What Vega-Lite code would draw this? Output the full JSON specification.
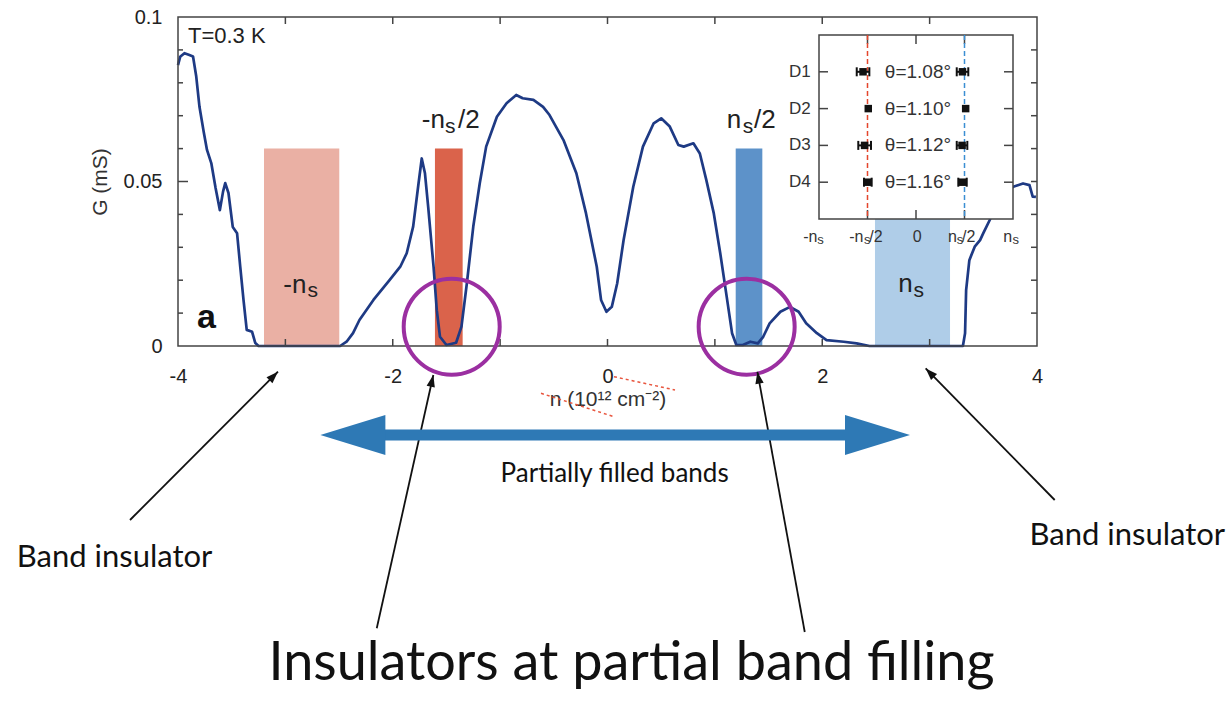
{
"$schema": "https://vega.github.io/schema/vega-lite/v6.json",
"width": 859, "height": 329,
"autosize": {"type": "none"},
"padding": {"left": 178, "top": 17, "right": 193, "bottom": 356},
"background": "white",
"config": {"view": {"stroke": null}},
"datasets": {
"curve": [
{"n":-4.00,"G":0.0854},{"n":-3.98,"G":0.0879},{"n":-3.94,"G":0.0890},{"n":-3.90,"G":0.0885},{"n":-3.86,"G":0.0880},{"n":-3.83,"G":0.0819},{"n":-3.80,"G":0.0727},{"n":-3.76,"G":0.0650},{"n":-3.73,"G":0.0596},{"n":-3.69,"G":0.0556},{"n":-3.65,"G":0.0480},{"n":-3.61,"G":0.0413},{"n":-3.58,"G":0.0470},{"n":-3.56,"G":0.0495},{"n":-3.53,"G":0.0465},{"n":-3.49,"G":0.0362},{"n":-3.45,"G":0.0343},{"n":-3.42,"G":0.0240},{"n":-3.39,"G":0.0140},{"n":-3.36,"G":0.0049},{"n":-3.31,"G":0.0043},{"n":-3.28,"G":0.0009},{"n":-3.25,"G":0.0},{"n":-2.90,"G":0.0},{"n":-2.49,"G":0.0},{"n":-2.43,"G":0.0013},{"n":-2.37,"G":0.0039},{"n":-2.31,"G":0.0079},{"n":-2.18,"G":0.0140},{"n":-2.03,"G":0.0200},{"n":-1.93,"G":0.0241},{"n":-1.87,"G":0.0282},{"n":-1.81,"G":0.0363},{"n":-1.76,"G":0.0494},{"n":-1.73,"G":0.0570},{"n":-1.70,"G":0.0525},{"n":-1.67,"G":0.0423},{"n":-1.62,"G":0.0241},{"n":-1.59,"G":0.0109},{"n":-1.56,"G":0.0028},{"n":-1.50,"G":0.0003},{"n":-1.41,"G":0.0010},{"n":-1.36,"G":0.0059},{"n":-1.31,"G":0.0190},{"n":-1.25,"G":0.0363},{"n":-1.19,"G":0.0494},{"n":-1.13,"G":0.0606},{"n":-1.03,"G":0.0697},{"n":-0.94,"G":0.0738},{"n":-0.85,"G":0.0763},{"n":-0.79,"G":0.0753},{"n":-0.69,"G":0.0748},{"n":-0.60,"G":0.0727},{"n":-0.54,"G":0.0702},{"n":-0.41,"G":0.0626},{"n":-0.29,"G":0.0525},{"n":-0.20,"G":0.0403},{"n":-0.10,"G":0.0241},{"n":-0.06,"G":0.0140},{"n":-0.01,"G":0.0104},{"n":0.04,"G":0.0119},{"n":0.09,"G":0.0190},{"n":0.15,"G":0.0322},{"n":0.24,"G":0.0484},{"n":0.33,"G":0.0606},{"n":0.43,"G":0.0677},{"n":0.50,"G":0.0692},{"n":0.58,"G":0.0667},{"n":0.66,"G":0.0611},{"n":0.71,"G":0.0606},{"n":0.80,"G":0.0616},{"n":0.86,"G":0.0585},{"n":0.92,"G":0.0505},{"n":0.99,"G":0.0403},{"n":1.05,"G":0.0282},{"n":1.11,"G":0.0150},{"n":1.16,"G":0.0039},{"n":1.20,"G":0.0003},{"n":1.26,"G":0.0003},{"n":1.33,"G":0.0013},{"n":1.40,"G":0.0008},{"n":1.45,"G":0.0028},{"n":1.51,"G":0.0069},{"n":1.61,"G":0.0104},{"n":1.70,"G":0.0119},{"n":1.78,"G":0.0104},{"n":1.85,"G":0.0069},{"n":1.95,"G":0.0039},{"n":2.04,"G":0.0018},{"n":2.20,"G":0.0013},{"n":2.32,"G":0.0008},{"n":2.44,"G":0.0},{"n":3.31,"G":0.0},{"n":3.33,"G":0.0039},{"n":3.34,"G":0.0170},{"n":3.37,"G":0.0261},{"n":3.42,"G":0.0302},{"n":3.47,"G":0.0322},{"n":3.50,"G":0.0343},{"n":3.56,"G":0.0383},{"n":3.61,"G":0.0423},{"n":3.66,"G":0.0450},{"n":3.72,"G":0.0470},{"n":3.78,"G":0.0484},{"n":3.87,"G":0.0494},{"n":3.93,"G":0.0489},{"n":3.96,"G":0.0454},{"n":3.99,"G":0.0453}
],
"bands": [
{"band":"-ns","n1":-3.199,"n2":-2.498,"G1":0,"G2":0.06},
{"band":"-ns/2","n1":-1.607,"n2":-1.349,"G1":0,"G2":0.06},
{"band":"ns/2","n1":1.194,"n2":1.442,"G1":0,"G2":0.06},
{"band":"ns","n1":2.491,"n2":3.190,"G1":0,"G2":0.06}
],
"bandText": [
{"t":"-n","n":-3.019,"G":0.0160},
{"t":"-n","n":-1.730,"G":0.0663},
{"t":"/2","n":-1.392,"G":0.0663},
{"t":"n","n":1.110,"G":0.0663},
{"t":"/2","n":1.364,"G":0.0663},
{"t":"n","n":2.708,"G":0.0165}
],
"bandSub": [
{"t":"s","n":-2.795,"G":0.0150},
{"t":"s","n":-1.513,"G":0.0647},
{"t":"s","n":1.259,"G":0.0647},
{"t":"s","n":2.850,"G":0.0150}
],
"circles": [{"n":-1.451,"G":0.00587},{"n":1.296,"G":0.00587}],
"xticks": [{"v":-3},{"v":-2},{"v":-1},{"v":0},{"v":1},{"v":2},{"v":3}],
"yminor": [{"v":0.01},{"v":0.02},{"v":0.03},{"v":0.04},{"v":0.06},{"v":0.07},{"v":0.08},{"v":0.09}],
"yall": [{"v":0.01},{"v":0.02},{"v":0.03},{"v":0.04},{"v":0.05},{"v":0.06},{"v":0.07},{"v":0.08},{"v":0.09}],
"arrows": [
{"id":"a1","n1":-4.447,"G1":-0.05289,"n2":-3.069,"G2":-0.00781},
{"id":"a2","n1":-2.149,"G1":-0.0858,"n2":-1.622,"G2":-0.00881},
{"id":"a3","n1":1.837,"G1":-0.08693,"n2":1.396,"G2":-0.00784},
{"id":"a4","n1":4.165,"G1":-0.04681,"n2":2.963,"G2":-0.00681}
],
"bigHeads": [{"id":"L","n":-2.674,"G":-0.02705},{"id":"R","n":2.817,"G":-0.02705}],
"scribbles": [
{"n1":0.0605,"G1":-0.00933,"n2":0.6286,"G2":-0.01337},
{"n1":-0.6193,"G1":-0.01438,"n2":0.0605,"G2":-0.02149}
],
"insetRows": [{"pos":1,"dev":"D1","theta":"θ=1.08°"},{"pos":2,"dev":"D2","theta":"θ=1.10°"},{"pos":3,"dev":"D3","theta":"θ=1.12°"},{"pos":4,"dev":"D4","theta":"θ=1.16°"}],
"insetPts": [
{"pos":1,"x":-0.546},{"pos":1,"x":0.479},
{"pos":2,"x":-0.492},{"pos":2,"x":0.512},
{"pos":3,"x":-0.530},{"pos":3,"x":0.475},
{"pos":4,"x":-0.497},{"pos":4,"x":0.480}
],
"insetBars": [
{"pos":1,"lo":-0.611,"hi":-0.481},{"pos":1,"lo":0.420,"hi":0.539},
{"pos":3,"lo":-0.595,"hi":-0.464},{"pos":3,"lo":0.420,"hi":0.529},
{"pos":4,"lo":-0.536,"hi":-0.457},{"pos":4,"lo":0.436,"hi":0.523}
],
"insetXText": [
{"t":"-n","x":-1.162,"pos":5.617},
{"t":"-n","x":-0.688,"pos":5.617},
{"t":"/2","x":-0.481,"pos":5.617},
{"t":"0","x":-0.034,"pos":5.617},
{"t":"n","x":0.33,"pos":5.617},
{"t":"/2","x":0.474,"pos":5.617},
{"t":"n","x":0.9,"pos":5.617}
],
"insetXSub": [
{"t":"s","x":-1.018,"pos":5.679},
{"t":"s","x":-0.536,"pos":5.679},
{"t":"s","x":0.42,"pos":5.679},
{"t":"s","x":0.995,"pos":5.679}
]
},
"layer": [
{"layer": [
{"data":{"name":"bands"},"mark":{"type":"rect"},
 "encoding":{
  "x":{"field":"n1","type":"quantitative","scale":{"domain":[-4,4],"nice":false,"zero":false},
   "axis":{"values":[-4,-2,0,2,4],"labelExpr":"'' + datum.value","ticks":false,"tickSize":0,"domain":false,"grid":false,"labelFont":"Liberation Sans","labelFontSize":20,"labelColor":"#222","labelPadding":20,"labelFlush":false,"labelOverlap":false,"title":"n (10¹² cm⁻²)","titleFont":"Liberation Sans","titleFontSize":21,"titleFontWeight":"normal","titleColor":"#333","titlePadding":2}},
  "x2":{"field":"n2"},
  "y":{"field":"G1","type":"quantitative","scale":{"domain":[0,0.1],"nice":false,"zero":false},
   "axis":{"values":[0,0.05,0.1],"labelExpr":"'' + datum.value","ticks":false,"tickSize":0,"domain":false,"grid":false,"labelFont":"Liberation Sans","labelFontSize":20,"labelColor":"#222","labelPadding":16,"labelOverlap":false,"labelFlush":false,"title":"G (mS)","titleFont":"Liberation Sans","titleFontSize":21,"titleFontWeight":"normal","titleColor":"#333","titlePadding":13}},
  "y2":{"field":"G2"},
  "color":{"field":"band","type":"nominal","scale":{"domain":["-ns","-ns/2","ns/2","ns"],"range":["#EAB0A4","#DA634B","#5D92C9","#AFCDE8"]},"legend":null}
 }},
{"data":{"name":"curve"},"mark":{"type":"line","color":"#1E3A84","strokeWidth":2.7,"strokeJoin":"round"},
 "encoding":{"x":{"field":"n","type":"quantitative"},"y":{"field":"G","type":"quantitative"}}},
{"data":{"values":[{}]},"mark":{"type":"rect","fill":"transparent","stroke":"#444","strokeWidth":1.5},
 "encoding":{"x":{"datum":-4,"type":"quantitative"},"x2":{"datum":4},"y":{"datum":0,"type":"quantitative"},"y2":{"datum":0.1}}},
{"data":{"name":"xticks"},"mark":{"type":"tick","orient":"vertical","size":7,"thickness":1.5,"color":"#444","opacity":1,"yOffset":3.5},
 "encoding":{"x":{"field":"v","type":"quantitative"},"y":{"datum":0.1,"type":"quantitative"}}},
{"data":{"name":"xticks"},"mark":{"type":"tick","orient":"vertical","size":7,"thickness":1.5,"color":"#444","opacity":1,"yOffset":-3.5},
 "encoding":{"x":{"field":"v","type":"quantitative"},"y":{"datum":0,"type":"quantitative"}}},
{"data":{"name":"yminor"},"mark":{"type":"tick","orient":"horizontal","size":5,"thickness":1.5,"color":"#444","opacity":1,"xOffset":2.5},
 "encoding":{"y":{"field":"v","type":"quantitative"},"x":{"datum":-4,"type":"quantitative"}}},
{"data":{"values":[{"v":0.05}]},"mark":{"type":"tick","orient":"horizontal","size":10,"thickness":1.5,"color":"#444","opacity":1,"xOffset":5},
 "encoding":{"y":{"field":"v","type":"quantitative"},"x":{"datum":-4,"type":"quantitative"}}},
{"data":{"name":"yall"},"mark":{"type":"tick","orient":"horizontal","size":6,"thickness":1.5,"color":"#444","opacity":1,"xOffset":-3},
 "encoding":{"y":{"field":"v","type":"quantitative"},"x":{"datum":4,"type":"quantitative"}}},
{"data":{"name":"circles"},"mark":{"type":"point","shape":"circle","filled":false,"size":9216,"stroke":"#9B2FA1","strokeWidth":4,"opacity":1},
 "encoding":{"x":{"field":"n","type":"quantitative"},"y":{"field":"G","type":"quantitative"}}},
{"data":{"name":"bandText"},"mark":{"type":"text","font":"Liberation Sans","fontSize":26,"align":"left","baseline":"alphabetic","color":"#222"},
 "encoding":{"x":{"field":"n","type":"quantitative"},"y":{"field":"G","type":"quantitative"},"text":{"field":"t"}}},
{"data":{"name":"bandSub"},"mark":{"type":"text","font":"Liberation Sans","fontSize":21,"align":"left","baseline":"alphabetic","color":"#222"},
 "encoding":{"x":{"field":"n","type":"quantitative"},"y":{"field":"G","type":"quantitative"},"text":{"field":"t"}}},
{"data":{"values":[{"t":"T=0.3 K","n":-3.907,"G":0.0921}]},"mark":{"type":"text","font":"Liberation Sans","fontSize":22,"align":"left","baseline":"alphabetic","color":"#222"},
 "encoding":{"x":{"field":"n","type":"quantitative"},"y":{"field":"G","type":"quantitative"},"text":{"field":"t"}}},
{"data":{"values":[{"t":"a","n":-3.823,"G":0.00547}]},"mark":{"type":"text","font":"Liberation Sans","fontSize":34,"fontWeight":"bold","align":"left","baseline":"alphabetic","color":"#111"},
 "encoding":{"x":{"field":"n","type":"quantitative"},"y":{"field":"G","type":"quantitative"},"text":{"field":"t"}}},
{"data":{"name":"arrows"},"mark":{"type":"rule","color":"#111","strokeWidth":1.8},
 "encoding":{"x":{"field":"n1","type":"quantitative"},"y":{"field":"G1","type":"quantitative"},"x2":{"field":"n2"},"y2":{"field":"G2"}}},
{"data":{"name":"arrows"},"mark":{"type":"point","filled":true,"size":144,"color":"#111","opacity":1},
 "encoding":{"x":{"field":"n2","type":"quantitative"},"y":{"field":"G2","type":"quantitative"},
  "shape":{"field":"id","type":"nominal","legend":null,"scale":{"domain":["a1","a2","a3","a4","L","R"],"range":["M0,0L-0.917,1.910L-1.908,0.921Z","M0,0L0.247,2.105L-1.120,1.800Z","M0,0L1.046,1.842L-0.331,2.093Z","M0,0L1.900,0.938L0.900,1.918Z","M0,0L2,-0.615L2,0.615Z","M0,0L-2,-0.615L-2,0.615Z"]}}}},
{"data":{"values":[{"n1":-2.15,"n2":2.3,"G":-0.02705}]},"mark":{"type":"rule","color":"#2E79B5","strokeWidth":11},
 "encoding":{"x":{"field":"n1","type":"quantitative"},"x2":{"field":"n2"},"y":{"field":"G","type":"quantitative"}}},
{"data":{"name":"bigHeads"},"mark":{"type":"point","filled":true,"size":4225,"color":"#2E79B5","opacity":1},
 "encoding":{"x":{"field":"n","type":"quantitative"},"y":{"field":"G","type":"quantitative"},
  "shape":{"field":"id","type":"nominal","legend":null,"scale":{"domain":["a1","a2","a3","a4","L","R"],"range":["M0,0L-0.917,1.910L-1.908,0.921Z","M0,0L0.247,2.105L-1.120,1.800Z","M0,0L1.046,1.842L-0.331,2.093Z","M0,0L1.900,0.938L0.900,1.918Z","M0,0L2,-0.615L2,0.615Z","M0,0L-2,-0.615L-2,0.615Z"]}}}},
{"data":{"values":[{"t":"Band insulator","n":-5.502,"G":-0.06726},{"t":"Band insulator","n":3.930,"G":-0.06049}]},"mark":{"type":"text","font":"Lato","fontSize":31,"align":"left","baseline":"alphabetic","color":"#111"},
 "encoding":{"x":{"field":"n","type":"quantitative"},"y":{"field":"G","type":"quantitative"},"text":{"field":"t"}}},
{"data":{"values":[{"t":"Partially filled bands","n":0.0662,"G":-0.04125}]},"mark":{"type":"text","font":"Lato","fontSize":26,"align":"center","baseline":"alphabetic","color":"#111"},
 "encoding":{"x":{"field":"n","type":"quantitative"},"y":{"field":"G","type":"quantitative"},"text":{"field":"t"}}},
{"data":{"values":[{"t":"Insulators at partial band filling","n":0.2235,"G":-0.10152}]},"mark":{"type":"text","font":"Lato","fontSize":54,"align":"center","baseline":"alphabetic","color":"#111"},
 "encoding":{"x":{"field":"n","type":"quantitative"},"y":{"field":"G","type":"quantitative"},"text":{"field":"t"}}},
{"data":{"name":"scribbles"},"mark":{"type":"rule","color":"#E8553E","strokeWidth":1.5,"strokeDash":[3,3]},
 "encoding":{"x":{"field":"n1","type":"quantitative"},"y":{"field":"G1","type":"quantitative"},"x2":{"field":"n2"},"y2":{"field":"G2"}}}
]},
{"layer": [
{"data":{"values":[{}]},"mark":{"type":"rect","fill":"white","stroke":"#444","strokeWidth":1.5},
 "encoding":{"x":{"datum":-1,"type":"quantitative","scale":{"domain":[-7.6082,1.2474],"nice":false,"zero":false},"axis":null},"x2":{"datum":1},
  "y":{"datum":0,"type":"quantitative","scale":{"domain":[-0.4891,8.4511],"nice":false,"zero":false,"reverse":true},"axis":null},"y2":{"datum":5}}},
{"data":{"name":"insetRows"},"mark":{"type":"tick","orient":"horizontal","size":9,"thickness":1.5,"color":"#444","opacity":1,"xOffset":4.5},
 "encoding":{"y":{"field":"pos","type":"quantitative","axis":null},"x":{"datum":-1,"type":"quantitative","axis":null}}},
{"data":{"name":"insetRows"},"mark":{"type":"tick","orient":"horizontal","size":9,"thickness":1.5,"color":"#444","opacity":1,"xOffset":-4.5},
 "encoding":{"y":{"field":"pos","type":"quantitative","axis":null},"x":{"datum":1,"type":"quantitative","axis":null}}},
{"data":{"values":[{"v":-0.5},{"v":0},{"v":0.5}]},"mark":{"type":"tick","orient":"vertical","size":9,"thickness":1.5,"color":"#444","opacity":1,"yOffset":4.5},
 "encoding":{"x":{"field":"v","type":"quantitative","axis":null},"y":{"datum":0,"type":"quantitative","axis":null}}},
{"data":{"values":[{"v":-0.5},{"v":0},{"v":0.5}]},"mark":{"type":"tick","orient":"vertical","size":9,"thickness":1.5,"color":"#444","opacity":1,"yOffset":-4.5},
 "encoding":{"x":{"field":"v","type":"quantitative","axis":null},"y":{"datum":5,"type":"quantitative","axis":null}}},
{"data":{"values":[{}]},"mark":{"type":"rule","color":"#E4462C","strokeWidth":1.5,"strokeDash":[5,3]},
 "encoding":{"x":{"datum":-0.5,"type":"quantitative","axis":null},"y":{"datum":0,"type":"quantitative","axis":null},"y2":{"datum":5}}},
{"data":{"values":[{}]},"mark":{"type":"rule","color":"#3B8ED3","strokeWidth":1.5,"strokeDash":[5,3]},
 "encoding":{"x":{"datum":0.5,"type":"quantitative","axis":null},"y":{"datum":0,"type":"quantitative","axis":null},"y2":{"datum":5}}},
{"data":{"name":"insetBars"},"mark":{"type":"rule","color":"#111","strokeWidth":2},
 "encoding":{"x":{"field":"lo","type":"quantitative","axis":null},"x2":{"field":"hi"},"y":{"field":"pos","type":"quantitative","axis":null}}},
{"data":{"name":"insetBars"},"mark":{"type":"tick","orient":"vertical","size":9,"thickness":2,"color":"#111","opacity":1},
 "encoding":{"x":{"field":"lo","type":"quantitative","axis":null},"y":{"field":"pos","type":"quantitative","axis":null}}},
{"data":{"name":"insetBars"},"mark":{"type":"tick","orient":"vertical","size":9,"thickness":2,"color":"#111","opacity":1},
 "encoding":{"x":{"field":"hi","type":"quantitative","axis":null},"y":{"field":"pos","type":"quantitative","axis":null}}},
{"data":{"name":"insetPts"},"mark":{"type":"point","shape":"square","filled":true,"size":56,"color":"#111","opacity":1},
 "encoding":{"x":{"field":"x","type":"quantitative","axis":null},"y":{"field":"pos","type":"quantitative","axis":null}}},
{"data":{"name":"insetRows"},"mark":{"type":"text","font":"Liberation Sans","fontSize":19,"align":"center","baseline":"middle","color":"#333"},
 "encoding":{"x":{"datum":0.02,"type":"quantitative","axis":null},"y":{"field":"pos","type":"quantitative","axis":null},"text":{"field":"theta"}}},
{"data":{"name":"insetRows"},"mark":{"type":"text","font":"Liberation Sans","fontSize":17,"align":"right","baseline":"middle","color":"#333"},
 "encoding":{"x":{"datum":-1.086,"type":"quantitative","axis":null},"y":{"field":"pos","type":"quantitative","axis":null},"text":{"field":"dev"}}},
{"data":{"name":"insetXText"},"mark":{"type":"text","font":"Liberation Sans","fontSize":16,"align":"left","baseline":"alphabetic","color":"#333"},
 "encoding":{"x":{"field":"x","type":"quantitative","axis":null},"y":{"field":"pos","type":"quantitative","axis":null},"text":{"field":"t"}}},
{"data":{"name":"insetXSub"},"mark":{"type":"text","font":"Liberation Sans","fontSize":13,"align":"left","baseline":"alphabetic","color":"#333"},
 "encoding":{"x":{"field":"x","type":"quantitative","axis":null},"y":{"field":"pos","type":"quantitative","axis":null},"text":{"field":"t"}}}
]}
],
"resolve": {"scale": {"x": "independent", "y": "independent"}}
}
